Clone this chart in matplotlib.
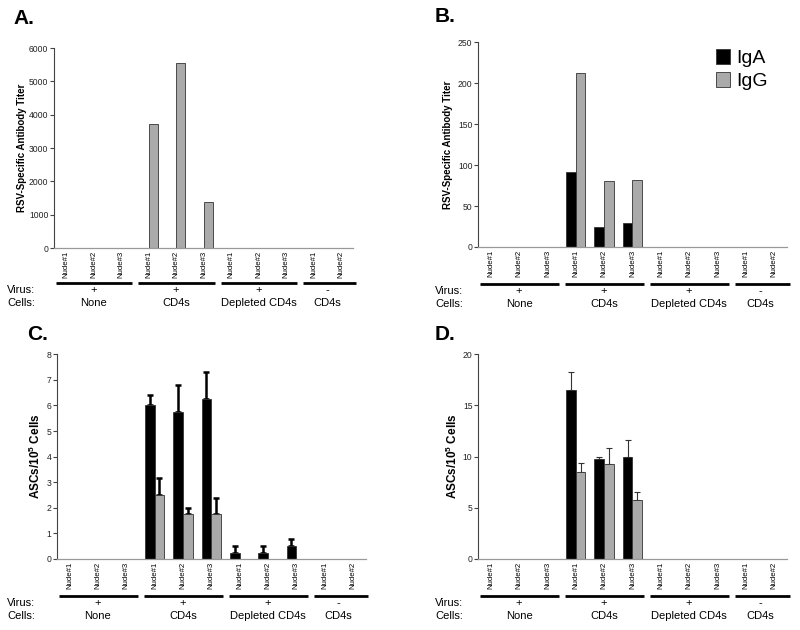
import numpy as np
import matplotlib
matplotlib.use('Agg')
import matplotlib.pyplot as plt
from matplotlib.transforms import blended_transform_factory

plt.rcParams['font.family'] = ['Liberation Sans', 'DejaVu Sans']
plt.rcParams['mathtext.fontset'] = 'custom'
plt.rcParams['mathtext.rm'] = 'Liberation Sans'
plt.rcParams['mathtext.bf'] = 'Liberation Sans:bold'

# Data
mice = ['Nude#1', 'Nude#2', 'Nude#3', 'Nude#1', 'Nude#2', 'Nude#3',
        'Nude#1', 'Nude#2', 'Nude#3', 'Nude#1', 'Nude#2']
group_sizes = [3, 3, 3, 2]
virus = ['+', '+', '+', '-']
cells = ['None', 'CD4s', 'Depleted CD4s', 'CD4s']

a_igg = [0, 0, 0, 3720, 5550, 1370, 0, 0, 0, 0, 0]

b_iga = [0, 0, 0, 91, 24, 29, 0, 0, 0, 0, 0]
b_igg = [0, 0, 0, 213, 80, 82, 0, 0, 0, 0, 0]

c_iga = [0, 0, 0, 6.0, 5.75, 6.25, 0.25, 0.25, 0.5, 0, 0]
c_iga_err = [0, 0, 0, 0.41, 1.04, 1.04, 0.25, 0.25, 0.28, 0, 0]
c_igg = [0, 0, 0, 2.5, 1.75, 1.75, 0, 0, 0, 0, 0]
c_igg_err = [0, 0, 0, 0.65, 0.24, 0.62, 0, 0, 0, 0, 0]

d_iga = [0, 0, 0, 16.5, 9.75, 10.0, 0, 0, 0, 0, 0]
d_iga_err = [0, 0, 0, 1.74, 0.25, 1.6, 0, 0, 0, 0, 0]
d_igg = [0, 0, 0, 8.5, 9.25, 5.75, 0, 0, 0, 0, 0]
d_igg_err = [0, 0, 0, 0.87, 1.58, 0.82, 0, 0, 0, 0, 0]

GRAY = '#aaaaaa'
W = 0.34

fig = plt.figure(figsize=(8, 6.3), dpi=100)


def setup(ax, ymax, ystep, ylabel, labx):
    x = np.arange(len(mice))
    ax.set_xlim(-0.45, 10.45)
    ax.set_ylim(0, ymax)
    ax.set_yticks(np.arange(0, ymax + ystep / 2, ystep))
    ax.set_xticks(x)
    ax.set_xticklabels(mice, rotation=90, fontsize=5.6)
    ax.tick_params(axis='x', length=0, pad=2)
    ax.tick_params(axis='y', length=3, width=0.8, colors='#444444',
                   labelsize=6.2, labelcolor='#222222', pad=1)
    for s in ['top', 'right']:
        ax.spines[s].set_visible(False)
    ax.spines['left'].set_color('#444444')
    ax.spines['left'].set_linewidth(0.8)
    ax.spines['bottom'].set_color('#999999')
    ax.spines['bottom'].set_linewidth(0.9)
    ax.set_ylabel(ylabel, fontweight='bold', fontsize=7 if 'RSV' in ylabel else 8.5)
    ax.yaxis.set_label_coords(labx, 0.5)


def groups(ax, yline, yvirus, ycells, xtext):
    tr = blended_transform_factory(ax.transData, fig.transFigure)
    start = 0
    for i, n in enumerate(group_sizes):
        end = start + n - 1
        right = end + (0.55 if i == len(group_sizes) - 1 else 0.4)
        ax.plot([start - 0.38, right], [yline, yline], color='black', lw=2,
                transform=tr, clip_on=False, solid_capstyle='butt')
        cx = (start + end) / 2
        ax.text(cx, yvirus, virus[i], transform=tr, ha='center', va='center', fontsize=8)
        ax.text(cx, ycells, cells[i], transform=tr, ha='center', va='center', fontsize=8)
        start += n
    fig.text(xtext, yvirus, 'Virus:', ha='left', va='center', fontsize=8)
    fig.text(xtext, ycells, 'Cells:', ha='left', va='center', fontsize=8)


def bars(ax, vals, offset, color, err=None, elw=1.0, ecol='black', cap=2.2):
    vals = np.array(vals, dtype=float)
    x = np.arange(len(vals))
    m = vals > 0
    ax.bar(x[m] + offset, vals[m], width=W, align='edge', color=color,
           edgecolor='#333333', linewidth=0.6, zorder=2)
    if err is not None:
        e = np.array(err, dtype=float)[m]
        ax.errorbar(x[m] + offset + W / 2, vals[m], yerr=[np.zeros_like(e), e],
                    fmt='none', ecolor=ecol, elinewidth=elw, capsize=cap,
                    capthick=elw, zorder=1)


# Panel A
axA = fig.add_axes([0.0675, 0.6063, 0.374, 0.3175])
bars(axA, a_igg, 0, GRAY)
setup(axA, 6000, 1000, 'RSV-Specific Antibody Titer', -0.09)
groups(axA, 0.5505, 0.5395, 0.519, 7 / 800)
fig.text(13 / 800, 1 - 18 / 630, 'A.', fontsize=15, fontweight='bold', va='center')

# Panel B
axB = fig.add_axes([0.5975, 0.608, 0.386, 0.325])
bars(axB, b_iga, -W, 'black')
bars(axB, b_igg, 0, GRAY)
setup(axB, 250, 50, 'RSV-Specific Antibody Titer', -0.08)
groups(axB, 0.549, 0.5385, 0.518, 435 / 800)
fig.text(435 / 800, 1 - 16 / 630, 'B.', fontsize=15, fontweight='bold', va='center')
h1 = plt.Rectangle((0, 0), 1, 1, facecolor='black', edgecolor='#333333', lw=0.6)
h2 = plt.Rectangle((0, 0), 1, 1, facecolor=GRAY, edgecolor='#333333', lw=0.6)
fig.legend([h1, h2], ['IgA', 'IgG'], loc='upper left',
           bbox_to_anchor=(716 / 800, 1 - 49 / 630), frameon=False, fontsize=14,
           handlelength=0.72, handleheight=0.8, handletextpad=0.3,
           labelspacing=0.25, borderpad=0, borderaxespad=0)

# Panel C
axC = fig.add_axes([0.071, 0.1127, 0.386, 0.325])
bars(axC, c_iga, -W, 'black', c_iga_err, elw=1.8, cap=2.4)
bars(axC, c_igg, 0, GRAY, c_igg_err, elw=1.8, cap=2.4)
setup(axC, 8, 1, r'ASCs/10$^{\mathbf{5}}$ Cells', -0.045)
groups(axC, 0.0535, 0.0425, 0.0225, 7 / 800)
fig.text(27 / 800, 1 - 335 / 630, 'C.', fontsize=15, fontweight='bold', va='center')

# Panel D
axD = fig.add_axes([0.5975, 0.1127, 0.386, 0.325])
bars(axD, d_iga, -W, 'black', d_iga_err, elw=0.8, ecol='#333333', cap=2.5)
bars(axD, d_igg, 0, GRAY, d_igg_err, elw=0.8, ecol='#333333', cap=2.5)
setup(axD, 20, 5, r'ASCs/10$^{\mathbf{5}}$ Cells', -0.058)
groups(axD, 0.0535, 0.0425, 0.0225, 435 / 800)
fig.text(435 / 800, 1 - 335 / 630, 'D.', fontsize=15, fontweight='bold', va='center')

fig.savefig('out.png', dpi=100)
